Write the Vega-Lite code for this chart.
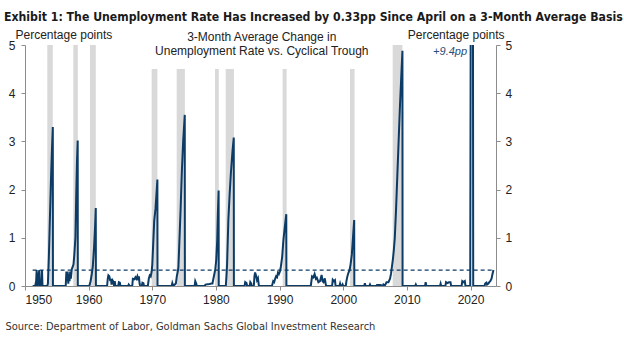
{
  "$schema": "https://vega.github.io/schema/vega-lite/v6.json",
  "width": 471,
  "height": 241,
  "autosize": {"type": "none"},
  "padding": {"left": 25, "top": 45, "right": 128, "bottom": 68},
  "background": "white",
  "title": {
    "text": "Exhibit 1: The Unemployment Rate Has Increased by 0.33pp Since April on a 3-Month Average Basis",
    "anchor": "start",
    "frame": "group",
    "font": "DejaVu Sans Condensed, sans-serif",
    "fontSize": 12.2,
    "fontWeight": "bold",
    "color": "#1a1a1a",
    "baseline": "alphabetic",
    "dx": -21,
    "dy": 19,
    "offset": 14
  },
  "config": {
    "view": {"stroke": null},
    "font": "Liberation Sans",
    "axis": {
      "labelFont": "Liberation Sans",
      "labelFontSize": 12,
      "labelColor": "#222222",
      "domainColor": "#8c8c8c",
      "tickColor": "#8c8c8c",
      "tickSize": 4,
      "grid": false,
      "titleFont": "Liberation Sans",
      "titleFontSize": 12,
      "titleFontWeight": "normal",
      "titleColor": "#222222"
    }
  },
  "datasets": {
    "series": [
      {"t": 1951.2, "v": 0}, {"t": 1951.6, "v": 0}, {"t": 1951.75, "v": 0.1}, {"t": 1951.83, "v": 0.33}, {"t": 1951.92, "v": 0},
      {"t": 1952.0, "v": 0}, {"t": 1952.08, "v": 0.2}, {"t": 1952.25, "v": 0.33}, {"t": 1952.33, "v": 0}, {"t": 1952.58, "v": 0},
      {"t": 1952.67, "v": 0.33}, {"t": 1952.75, "v": 0}, {"t": 1953.5, "v": 0}, {"t": 1953.6, "v": 0.05}, {"t": 1953.75, "v": 0.6},
      {"t": 1953.92, "v": 1.44}, {"t": 1954.08, "v": 2.2}, {"t": 1954.25, "v": 2.9}, {"t": 1954.37, "v": 3.3}, {"t": 1954.39, "v": 0},
      {"t": 1956.4, "v": 0}, {"t": 1956.5, "v": 0.3}, {"t": 1956.6, "v": 0.1}, {"t": 1956.7, "v": 0.3}, {"t": 1956.8, "v": 0.05},
      {"t": 1956.9, "v": 0.25}, {"t": 1957.0, "v": 0.1}, {"t": 1957.1, "v": 0.3}, {"t": 1957.2, "v": 0.15}, {"t": 1957.35, "v": 0.35},
      {"t": 1957.5, "v": 0.4}, {"t": 1957.62, "v": 0.45}, {"t": 1957.75, "v": 0.65}, {"t": 1957.92, "v": 1.0}, {"t": 1958.05, "v": 1.9},
      {"t": 1958.17, "v": 2.6}, {"t": 1958.28, "v": 3.02}, {"t": 1958.3, "v": 0},
      {"t": 1960.1, "v": 0}, {"t": 1960.3, "v": 0.1}, {"t": 1960.5, "v": 0.25}, {"t": 1960.65, "v": 0.4}, {"t": 1960.85, "v": 0.8},
      {"t": 1961.0, "v": 1.2}, {"t": 1961.12, "v": 1.62}, {"t": 1961.14, "v": 0},
      {"t": 1962.9, "v": 0}, {"t": 1963.0, "v": 0.15}, {"t": 1963.1, "v": 0.22}, {"t": 1963.25, "v": 0.2}, {"t": 1963.4, "v": 0.1},
      {"t": 1963.5, "v": 0.15}, {"t": 1963.6, "v": 0.03}, {"t": 1963.75, "v": 0.12}, {"t": 1963.85, "v": 0.1}, {"t": 1964.0, "v": 0},
      {"t": 1964.1, "v": 0.1}, {"t": 1964.2, "v": 0}, {"t": 1964.65, "v": 0}, {"t": 1964.75, "v": 0.08}, {"t": 1964.9, "v": 0.07},
      {"t": 1965.0, "v": 0}, {"t": 1966.2, "v": 0}, {"t": 1966.3, "v": 0.03}, {"t": 1966.45, "v": 0}, {"t": 1966.85, "v": 0},
      {"t": 1966.95, "v": 0.15}, {"t": 1967.2, "v": 0.14}, {"t": 1967.35, "v": 0.18}, {"t": 1967.5, "v": 0.15}, {"t": 1967.65, "v": 0.2},
      {"t": 1967.8, "v": 0.12}, {"t": 1967.9, "v": 0.2}, {"t": 1968.0, "v": 0.05}, {"t": 1968.1, "v": 0}, {"t": 1968.35, "v": 0},
      {"t": 1968.45, "v": 0.07}, {"t": 1968.6, "v": 0.06}, {"t": 1968.7, "v": 0}, {"t": 1969.3, "v": 0}, {"t": 1969.45, "v": 0.15},
      {"t": 1969.6, "v": 0.22}, {"t": 1969.75, "v": 0.2}, {"t": 1969.9, "v": 0.3}, {"t": 1970.0, "v": 0.45}, {"t": 1970.15, "v": 0.9},
      {"t": 1970.3, "v": 1.35}, {"t": 1970.5, "v": 1.6}, {"t": 1970.7, "v": 2.0}, {"t": 1970.8, "v": 2.21}, {"t": 1970.82, "v": 0},
      {"t": 1973.05, "v": 0}, {"t": 1973.15, "v": 0.06}, {"t": 1973.3, "v": 0}, {"t": 1973.7, "v": 0.05}, {"t": 1973.85, "v": 0.2},
      {"t": 1974.0, "v": 0.3}, {"t": 1974.1, "v": 0.38}, {"t": 1974.25, "v": 0.9}, {"t": 1974.45, "v": 1.6}, {"t": 1974.65, "v": 2.4},
      {"t": 1974.85, "v": 3.0}, {"t": 1975.1, "v": 3.55}, {"t": 1975.12, "v": 0},
      {"t": 1976.65, "v": 0}, {"t": 1976.75, "v": 0.1}, {"t": 1976.9, "v": 0.05}, {"t": 1977.0, "v": 0}, {"t": 1978.25, "v": 0},
      {"t": 1978.35, "v": 0.03}, {"t": 1979.0, "v": 0.04}, {"t": 1979.3, "v": 0.05}, {"t": 1979.45, "v": 0.05}, {"t": 1979.6, "v": 0.15},
      {"t": 1979.75, "v": 0.25}, {"t": 1979.9, "v": 0.35}, {"t": 1980.05, "v": 0.55}, {"t": 1980.2, "v": 0.95}, {"t": 1980.3, "v": 1.5},
      {"t": 1980.42, "v": 1.98}, {"t": 1980.44, "v": 0},
      {"t": 1981.55, "v": 0}, {"t": 1981.65, "v": 0.2}, {"t": 1981.75, "v": 0.45}, {"t": 1981.95, "v": 1.37}, {"t": 1982.15, "v": 1.9},
      {"t": 1982.35, "v": 2.35}, {"t": 1982.6, "v": 2.8}, {"t": 1982.8, "v": 3.08}, {"t": 1982.82, "v": 0},
      {"t": 1984.5, "v": 0}, {"t": 1984.6, "v": 0.08}, {"t": 1984.8, "v": 0.06}, {"t": 1984.9, "v": 0}, {"t": 1985.3, "v": 0},
      {"t": 1985.4, "v": 0.08}, {"t": 1985.55, "v": 0.05}, {"t": 1985.6, "v": 0}, {"t": 1985.95, "v": 0}, {"t": 1986.05, "v": 0.2},
      {"t": 1986.15, "v": 0.28}, {"t": 1986.3, "v": 0.22}, {"t": 1986.45, "v": 0.12}, {"t": 1986.6, "v": 0.16}, {"t": 1986.75, "v": 0},
      {"t": 1988.8, "v": 0}, {"t": 1988.9, "v": 0.05}, {"t": 1989.0, "v": 0.1}, {"t": 1989.15, "v": 0.08}, {"t": 1989.3, "v": 0.15},
      {"t": 1989.45, "v": 0.2}, {"t": 1989.6, "v": 0.18}, {"t": 1989.75, "v": 0.28}, {"t": 1989.9, "v": 0.25}, {"t": 1990.05, "v": 0.3},
      {"t": 1990.2, "v": 0.4}, {"t": 1990.4, "v": 0.6}, {"t": 1990.6, "v": 0.95}, {"t": 1990.8, "v": 1.2}, {"t": 1991.05, "v": 1.49},
      {"t": 1991.07, "v": 0},
      {"t": 1994.9, "v": 0}, {"t": 1995.1, "v": 0.2}, {"t": 1995.3, "v": 0.18}, {"t": 1995.5, "v": 0.25}, {"t": 1995.7, "v": 0.15},
      {"t": 1995.85, "v": 0.17}, {"t": 1996.1, "v": 0.08}, {"t": 1996.35, "v": 0.1}, {"t": 1996.6, "v": 0.23}, {"t": 1996.75, "v": 0.1},
      {"t": 1996.9, "v": 0.08}, {"t": 1997.1, "v": 0.16}, {"t": 1997.3, "v": 0}, {"t": 1998.25, "v": 0}, {"t": 1998.35, "v": 0.13},
      {"t": 1998.55, "v": 0.1}, {"t": 1998.7, "v": 0.12}, {"t": 1998.8, "v": 0}, {"t": 1999.4, "v": 0}, {"t": 1999.5, "v": 0.05},
      {"t": 1999.6, "v": 0}, {"t": 1999.8, "v": 0}, {"t": 1999.9, "v": 0.03}, {"t": 2000.0, "v": 0}, {"t": 2000.4, "v": 0},
      {"t": 2000.5, "v": 0.1}, {"t": 2000.65, "v": 0.2}, {"t": 2000.8, "v": 0.27}, {"t": 2001.0, "v": 0.33}, {"t": 2001.15, "v": 0.45},
      {"t": 2001.35, "v": 0.65}, {"t": 2001.5, "v": 0.95}, {"t": 2001.72, "v": 1.37}, {"t": 2001.74, "v": 0},
      {"t": 2003.3, "v": 0}, {"t": 2003.4, "v": 0.06}, {"t": 2003.5, "v": 0}, {"t": 2004.1, "v": 0}, {"t": 2004.2, "v": 0.03},
      {"t": 2004.3, "v": 0}, {"t": 2005.2, "v": 0}, {"t": 2005.3, "v": 0.02}, {"t": 2005.9, "v": 0.02}, {"t": 2006.0, "v": 0},
      {"t": 2006.2, "v": 0}, {"t": 2006.3, "v": 0.03}, {"t": 2006.5, "v": 0}, {"t": 2006.7, "v": 0.05}, {"t": 2006.8, "v": 0.08},
      {"t": 2007.1, "v": 0.08}, {"t": 2007.35, "v": 0.15}, {"t": 2007.5, "v": 0.25}, {"t": 2007.65, "v": 0.4}, {"t": 2007.8, "v": 0.55},
      {"t": 2007.95, "v": 0.75}, {"t": 2008.1, "v": 1.0}, {"t": 2008.3, "v": 1.6}, {"t": 2008.5, "v": 2.3}, {"t": 2008.7, "v": 3.0},
      {"t": 2008.9, "v": 3.7}, {"t": 2009.1, "v": 4.3}, {"t": 2009.3, "v": 4.88}, {"t": 2009.32, "v": 0},
      {"t": 2011.3, "v": 0}, {"t": 2011.4, "v": 0.03}, {"t": 2011.5, "v": 0}, {"t": 2012.85, "v": 0}, {"t": 2012.95, "v": 0.08},
      {"t": 2013.05, "v": 0}, {"t": 2015.2, "v": 0}, {"t": 2015.3, "v": 0.05}, {"t": 2015.4, "v": 0}, {"t": 2016.05, "v": 0},
      {"t": 2016.15, "v": 0.08}, {"t": 2016.4, "v": 0.06}, {"t": 2016.6, "v": 0.08}, {"t": 2016.85, "v": 0.08}, {"t": 2016.95, "v": 0},
      {"t": 2018.6, "v": 0}, {"t": 2018.7, "v": 0.1}, {"t": 2018.9, "v": 0.08}, {"t": 2019.1, "v": 0.1}, {"t": 2019.2, "v": 0},
      {"t": 2019.95, "v": 0}, {"t": 2020.08, "v": 9.4}, {"t": 2020.35, "v": 9.4}, {"t": 2020.42, "v": 0},
      {"t": 2022.2, "v": 0}, {"t": 2022.3, "v": 0.05}, {"t": 2022.5, "v": 0.07}, {"t": 2022.6, "v": 0.03}, {"t": 2022.8, "v": 0.05},
      {"t": 2022.95, "v": 0.08}, {"t": 2023.1, "v": 0.1}, {"t": 2023.3, "v": 0.15}, {"t": 2023.45, "v": 0.25}, {"t": 2023.6, "v": 0.33}
    ],
    "recessions": [
      {"t": 1953.5, "end": 1954.37, "top": 5},
      {"t": 1957.59, "end": 1958.3, "top": 5},
      {"t": 1960.21, "end": 1961.12, "top": 5},
      {"t": 1969.9, "end": 1970.8, "top": 4.5},
      {"t": 1973.83, "end": 1975.12, "top": 4.5},
      {"t": 1979.85, "end": 1980.45, "top": 4.5},
      {"t": 1981.53, "end": 1982.83, "top": 4.5},
      {"t": 1990.48, "end": 1991.1, "top": 4.5},
      {"t": 2001.06, "end": 2001.78, "top": 4.5},
      {"t": 2007.77, "end": 2009.3, "top": 5}
    ]
  },
  "resolve": {"axis": {"y": "independent"}},
  "encoding": {
    "x": {
      "field": "t", "type": "quantitative",
      "scale": {"domain": [1950, 2024], "nice": false, "zero": false},
      "axis": {
        "values": [1950, 1960, 1970, 1980, 1990, 2000, 2010, 2020], "format": "d", "labelPadding": 4,
        "title": "Source: Department of Labor, Goldman Sachs Global Investment Research",
        "titleFont": "DejaVu Sans Condensed, sans-serif", "titleFontSize": 11, "titleColor": "#333333",
        "titleAnchor": "start", "titleAlign": "left", "titleBaseline": "alphabetic", "titleX": -20, "titleY": 43
      }
    }
  },
  "layer": [
    {
      "data": {"name": "recessions"},
      "mark": {"type": "rect", "color": "#d9d9d9"},
      "encoding": {
        "x2": {"field": "end"},
        "y": {"field": "top", "type": "quantitative", "scale": {"domain": [0, 5], "nice": false},
          "axis": {"orient": "right", "values": [0, 1, 2, 3, 4, 5], "labelPadding": 5,
            "title": "Percentage points", "titleAngle": 0, "titleX": 8, "titleY": -7, "titleAlign": "right", "titleBaseline": "alphabetic"}},
        "y2": {"datum": 0}
      }
    },
    {
      "data": {"values": [{"t": 1951.2, "b": 2023.6, "lvl": 0.33}]},
      "mark": {"type": "rule", "color": "#0c3b66", "strokeWidth": 1.2, "strokeDash": [4, 3]},
      "encoding": {
        "x2": {"field": "b"},
        "y": {"field": "lvl", "type": "quantitative", "scale": {"domain": [0, 5], "nice": false}, "axis": null}
      }
    },
    {
      "data": {"name": "series"},
      "mark": {"type": "line", "color": "#0c3b66", "strokeWidth": 2, "clip": true, "strokeJoin": "miter"},
      "encoding": {
        "y": {"field": "v", "type": "quantitative", "scale": {"domain": [0, 5], "nice": false},
          "axis": {"orient": "left", "values": [0, 1, 2, 3, 4, 5], "labelPadding": 6,
            "title": "Percentage points", "titleAngle": 0, "titleX": -10, "titleY": -7, "titleAlign": "left", "titleBaseline": "alphabetic"}}
      }
    },
    {
      "data": {"values": [{"t": 1987.2, "y": 5.08, "label": ["3-Month  Average  Change  in", "Unemployment  Rate  vs.  Cyclical  Trough"]}]},
      "mark": {"type": "text", "align": "center", "baseline": "alphabetic", "font": "Liberation Sans", "fontSize": 12, "lineHeight": 14, "color": "#222222"},
      "encoding": {
        "y": {"field": "y", "type": "quantitative", "scale": {"domain": [0, 5], "nice": false}, "axis": null},
        "text": {"field": "label"}
      }
    },
    {
      "data": {"values": [{"t": 2019.45, "y": 4.8, "label": "+9.4pp"}]},
      "mark": {"type": "text", "align": "right", "baseline": "alphabetic", "font": "Liberation Sans", "fontSize": 11, "fontStyle": "italic", "color": "#2b4d73"},
      "encoding": {
        "y": {"field": "y", "type": "quantitative", "scale": {"domain": [0, 5], "nice": false}, "axis": null},
        "text": {"field": "label"}
      }
    }
  ]
}
